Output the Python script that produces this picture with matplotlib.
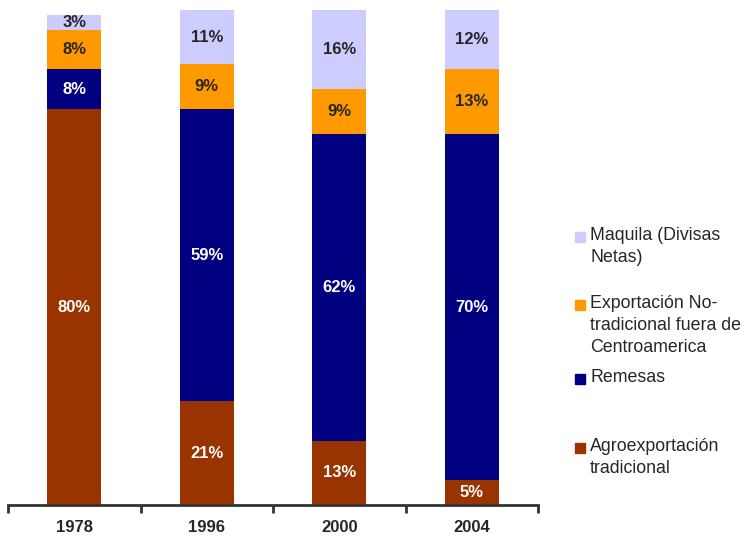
import numpy as np
import matplotlib.pyplot as plt
from matplotlib.patches import Rectangle

plt.rcParams['font.family'] = ['Liberation Sans', 'DejaVu Sans']

years = ['1978', '1996', '2000', '2004']
agro = [80, 21, 13, 5]
remesas = [8, 59, 62, 70]
export_nt = [8, 9, 9, 13]
maquila = [3, 11, 16, 12]

series = [agro, remesas, export_nt, maquila]
colors = ['#993300', '#000080', '#FF9900', '#CCCCFF']
text_colors = ['white', 'white', '#262626', '#262626']
legend_labels = ['Maquila (Divisas\nNetas)',
                 'Exportación No-\ntradicional fuera de\nCentroamerica',
                 'Remesas',
                 'Agroexportación\ntradicional']
legend_colors = ['#CCCCFF', '#FF9900', '#000080', '#993300']
legend_y = [235, 303, 377, 446]  # centre of first line of each entry, px from top

W, H = 745, 542
fig = plt.figure(figsize=(W / 100, H / 100), dpi=100)
ax = fig.add_axes([8 / W, (H - 505) / H, 530 / W, 495 / H])

x = np.arange(len(years))
bottom = np.zeros(len(years))
for vals, col, tcol in zip(series, colors, text_colors):
    vals = np.array(vals, dtype=float)
    ax.bar(x, vals, width=0.41, bottom=bottom, color=col, edgecolor='none')
    for xi, b, v in zip(x, bottom, vals):
        ax.text(xi, b + v / 2, f'{int(v)}%', ha='center', va='center',
                fontsize=12, fontweight='bold', color=tcol)
    bottom += vals

ax.set_xlim(-0.5, 3.5)
ax.set_ylim(0, 100)
for s in ['top', 'right', 'left']:
    ax.spines[s].set_visible(False)
ax.spines['bottom'].set_color('#333333')
ax.spines['bottom'].set_linewidth(2)
ax.set_yticks([])
ax.set_xticks(np.arange(-0.5, 4, 1.0))
ax.set_xticklabels([])
ax.tick_params(axis='x', direction='out', length=6, width=2, color='#333333')
for xi, yr in zip(x, years):
    ax.text(xi, -4.5, yr, ha='center', va='center', fontsize=12,
            fontweight='bold', color='#262626', clip_on=False)

# legend drawn by hand to keep the uneven spacing
for lab, col, ly in zip(legend_labels, legend_colors, legend_y):
    fig.patches.append(Rectangle((575 / W, 1 - (ly + 7) / H), 10 / W, 10 / H,
                                 transform=fig.transFigure, color=col))
    fig.text(590 / W, 1 - (ly - 8) / H, lab, ha='left', va='top',
             fontsize=12.8, color='#262626', linespacing=1.4)

fig.savefig('out.png', dpi=100)
